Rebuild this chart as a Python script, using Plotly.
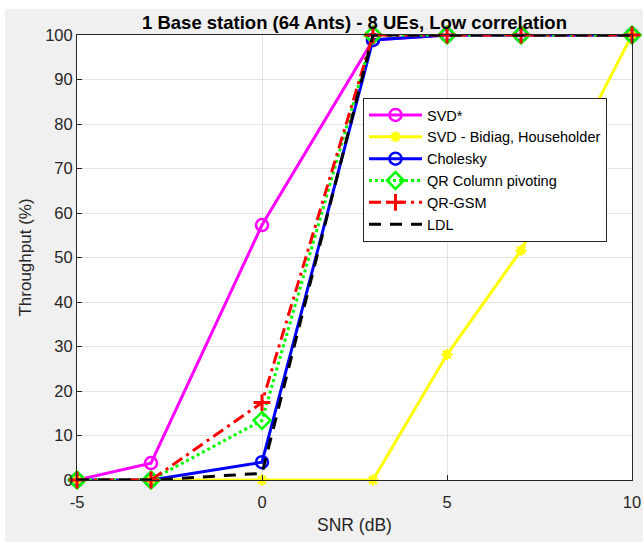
import plotly.graph_objects as go

snr = [-5, -3, 0, 3, 5, 7, 10]
svd_star = [0, 3.8, 57.3, 98.9, 100, 100, 100]
svd_bidiag = [0, 0, 0, 0, 28.2, 51.6, 100]
cholesky = [0, 0, 4.0, 98.9, 100, 100, 100]
qr_colpiv = [0, 0, 13.4, 100, 100, 100, 100]
qr_gsm = [0, 0, 17.4, 100, 100, 100, 100]
ldl = [0, 0, 1.5, 100, 100, 100, 100]

names = ["SVD*", "SVD - Bidiag, Householder", "Cholesky", "QR Column pivoting", "QR-GSM", "LDL"]
x_ticks = [-5, 0, 5, 10]
y_ticks = list(range(0, 101, 10))

FONT = "Liberation Sans, Arial, Helvetica, sans-serif"
TXT = "#262626"

fig = go.Figure()

def add(y, name, color, dash, symbol, msize, mode="lines+markers", mlw=2.5):
    fig.add_trace(go.Scatter(
        x=snr, y=y, name=name, mode=mode, cliponaxis=False,
        line=dict(color=color, width=3, dash=dash),
        marker=dict(symbol=symbol, size=msize, color=color,
                    line=dict(color=color, width=mlw)),
    ))

add(svd_star, names[0], "#ff00ff", "solid", "circle-open", 12)
add(svd_bidiag, names[1], "#ffff00", "solid", "asterisk-open", 9)
add(cholesky, names[2], "#0000ff", "solid", "circle-open", 12)
add(qr_colpiv, names[3], "#00ff00", "dot", "diamond-open", 13)
add(qr_gsm, names[4], "#ff0000", "12px,5px,3px,5px", "cross-thin-open", 12, mlw=3)
add(ldl, names[5], "#000000", "12px,9px", "circle", 1, mode="lines")

# white strips at top and left (screenshot border)
L, R, T, B = 77, 632, 35, 480
def px(v): return (v - L) / (R - L)
def py(v): return (B - v) / (B - T)
fig.add_shape(type="rect", xref="paper", yref="paper", x0=px(-5), x1=px(648),
              y0=py(9), y1=py(-5), fillcolor="white", line_width=0, layer="below")
fig.add_shape(type="rect", xref="paper", yref="paper", x0=px(-5), x1=px(5),
              y0=py(550), y1=py(-5), fillcolor="white", line_width=0, layer="below")

fig.update_layout(
    width=643, height=542,
    margin=dict(l=L, r=643 - R, t=T, b=542 - B, autoexpand=False),
    paper_bgcolor="#f0f0f0", plot_bgcolor="white",
    font=dict(family=FONT, size=16.5, color=TXT),
    title=dict(text="<b>1 Base station (64 Ants) - 8 UEs, Low correlation</b>",
               x=0.5, xref="paper", xanchor="center", y=1 - 23 / 542, yanchor="middle",
               font=dict(size=18.5, color="#000000")),
    showlegend=True,
    legend=dict(x=px(363), y=py(98), xanchor="left", yanchor="top",
                bgcolor="white", bordercolor=TXT, borderwidth=1,
                font=dict(size=14.5, color="#000000"), tracegroupgap=0,
                itemwidth=53),
)
fig.update_xaxes(range=[-5, 10], tickvals=x_ticks, ticktext=[str(v) for v in x_ticks],
                 showgrid=True, gridcolor="#e3e3e3", gridwidth=1, zeroline=False,
                 showline=True, linecolor=TXT, linewidth=1, mirror=True,
                 ticks="inside", ticklen=5, tickcolor=TXT, automargin=False,
                 ticklabelstandoff=7,
                 title=dict(text="SNR (dB)", font=dict(size=17.5), standoff=8))
fig.update_yaxes(range=[0, 100], tickvals=y_ticks, ticktext=[str(v) for v in y_ticks],
                 showgrid=True, gridcolor="#e3e3e3", gridwidth=1, zeroline=False,
                 showline=True, linecolor=TXT, linewidth=1, mirror=True,
                 ticks="inside", ticklen=5, tickcolor=TXT, automargin=False,
                 title=dict(text="Throughput (%)", font=dict(size=17), standoff=9))

fig.write_html("out.html")
